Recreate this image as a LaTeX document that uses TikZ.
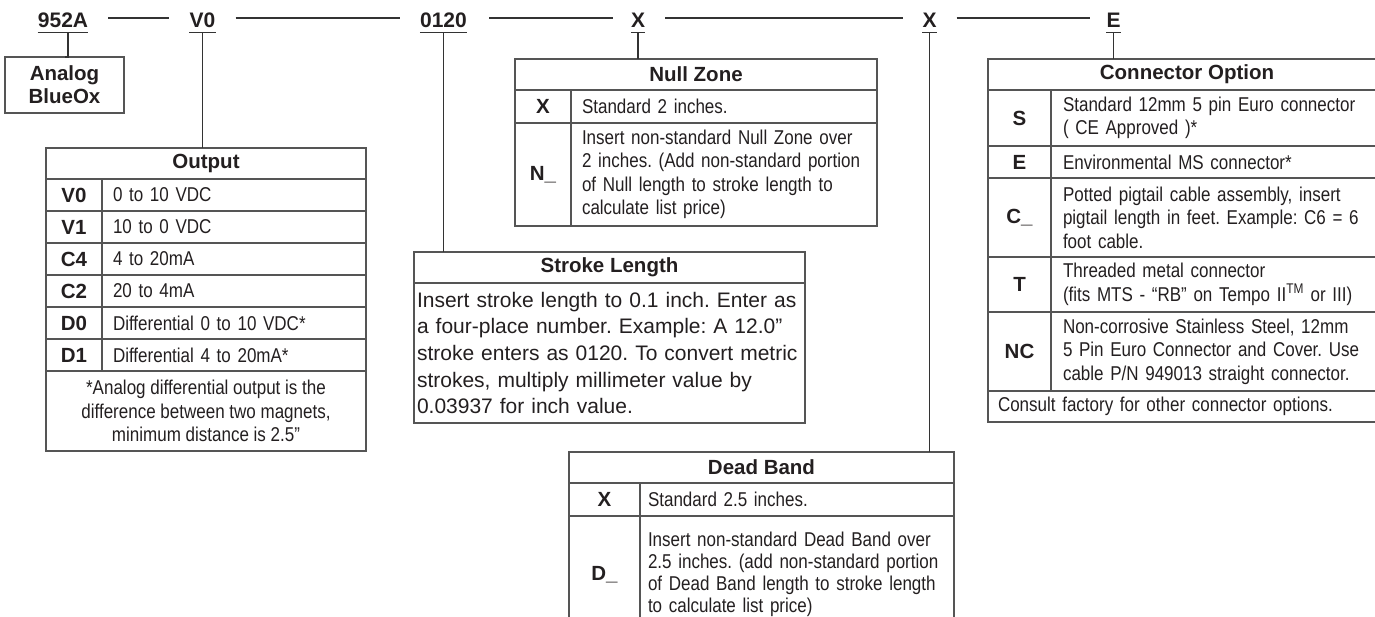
\documentclass[tikz,border=0pt]{standalone}
\usepackage{fontspec}
\setmainfont{Liberation Sans}
\newfontfamily\narrowsans{Liberation Sans}[FakeStretch=0.85]
\usepackage{tikz}
\usetikzlibrary{positioning}
\definecolor{ink}{HTML}{231F20}
\definecolor{ruleline}{HTML}{555555}
\definecolor{linkc}{HTML}{333333}
\newcommand{\codefont}{\fontsize{21}{24}\selectfont\bfseries}
\newcommand{\headfont}{\fontsize{20.5}{23}\selectfont\bfseries}
\newcommand{\descfont}{\narrowsans\fontsize{20}{23.5}\selectfont}
\newcommand{\bodyfont}{\fontsize{21}{26.6}\selectfont}
\frenchspacing
\hyphenpenalty=10000
\exhyphenpenalty=10000

\begin{document}
\begin{tikzpicture}[x=1pt, y=-1pt,
    every node/.style={text=ink},
    codelabel/.style={font=\codefont, inner xsep=0pt, inner ysep=5pt, text height=15pt, text depth=0pt, anchor=base},
    cell/.style={draw=ruleline, line width=1.3pt, anchor=north west, inner sep=0pt, outer sep=0pt},
    hdcell/.style={cell, font=\headfont},
    keycell/.style={cell, font=\headfont},
    desccell/.style={cell, font=\descfont, align=left, inner xsep=#1},
    desccell/.default=11pt,
    stem/.style={draw=linkc, line width=1.2pt}
]
\useasboundingbox (0,0) rectangle (1375,616);
\clip (0,0) rectangle (1375,616);

% Part number codes
\node[codelabel] (c952)    at (63,27)     {952A};
\node[codelabel] (cvo)     at (202.5,27)  {V0};
\node[codelabel] (cstroke) at (443.5,27)  {0120};
\node[codelabel] (cnull)   at (638,27)    {X};
\node[codelabel] (cdead)   at (929.5,27)  {X};
\node[codelabel] (ccon)    at (1113.5,27) {E};

% Brand
\node[cell, font=\headfont, align=center, minimum width=119pt, minimum height=56pt] (brand) at (5,57) {Analog\\BlueOx};

% Output
\node[hdcell, minimum width=320pt, minimum height=31pt] (outhead) at (46,148) {Output};
\node[keycell, minimum width=56pt, minimum height=32pt] (ov0k) at (46,179) {V0};
\node[desccell, minimum height=32pt, text width=242pt] (ov0d) at (102,179) {0 to 10 VDC};
\node[keycell, minimum width=56pt, minimum height=32pt] (ov1k) at (46,211) {V1};
\node[desccell, minimum height=32pt, text width=242pt] (ov1d) at (102,211) {10 to 0 VDC};
\node[keycell, minimum width=56pt, minimum height=32pt] (oc4k) at (46,243) {C4};
\node[desccell, minimum height=32pt, text width=242pt] (oc4d) at (102,243) {4 to 20mA};
\node[keycell, minimum width=56pt, minimum height=32pt] (oc2k) at (46,275) {C2};
\node[desccell, minimum height=32pt, text width=242pt] (oc2d) at (102,275) {20 to 4mA};
\node[keycell, minimum width=56pt, minimum height=32pt] (od0k) at (46,307) {D0};
\node[desccell, minimum height=32pt, text width=242pt] (od0d) at (102,307) {Differential 0 to 10 VDC*};
\node[keycell, minimum width=56pt, minimum height=32pt] (od1k) at (46,339) {D1};
\node[desccell, minimum height=32pt, text width=242pt] (od1d) at (102,339) {Differential 4 to 20mA*};
\node[cell, font=\descfont, align=center, minimum width=320pt, minimum height=80pt] (outnote) at (46,371) {*Analog differential output is the\\difference between two magnets,\\minimum distance is 2.5”};

% Null Zone
\node[hdcell, minimum width=362pt, minimum height=31pt] (nullhead) at (515,59) {Null Zone};
\node[keycell, minimum width=56pt, minimum height=33pt] (nxk) at (515,90) {X};
\node[desccell, minimum height=33pt, text width=284pt] (nxd) at (571,90) {Standard 2 inches.};
\node[keycell, minimum width=56pt, minimum height=103pt] (nnk) at (515,123) {N\_};
\node[desccell, minimum height=103pt, text width=284pt] (nnd) at (571,123) {Insert non-standard Null Zone over\\2 inches. (Add non-standard portion\\of Null length to stroke length to\\calculate list price)};

% Stroke Length
\node[hdcell, minimum width=391pt, minimum height=31pt] (strokehead) at (414,252) {Stroke Length};
\node[desccell=3pt, font=\bodyfont, minimum height=140pt, text width=385pt] (strokebody) at (414,283) {Insert stroke length to 0.1 inch. Enter as\\a four-place number. Example: A 12.0”\\stroke enters as 0120. To convert metric\\strokes, multiply millimeter value by\\0.03937 for inch value.};

% Dead Band
\node[hdcell, minimum width=385pt, minimum height=31pt] (deadhead) at (569,452) {Dead Band};
\node[keycell, minimum width=71pt, minimum height=33pt] (dxk) at (569,483) {X};
\node[desccell=8pt, minimum height=33pt, text width=298pt] (dxd) at (640,483) {Standard 2.5 inches.};
\node[keycell, minimum width=71pt, minimum height=117pt] (ddk) at (569,516) {D\_};
\node[desccell=8pt, font=\narrowsans\fontsize{20}{22}\selectfont, minimum height=117pt, text width=298pt] (ddd) at (640,516) {Insert non-standard Dead Band over\\2.5 inches. (add non-standard portion\\of Dead Band length to stroke length\\to calculate list price)};

% Connector Option
\node[hdcell, minimum width=398pt, minimum height=31pt] (conhead) at (988,59) {Connector Option};
\node[keycell, minimum width=63pt, minimum height=56pt] (csk) at (988,90) {S};
\node[desccell=12pt, minimum height=56pt, text width=311pt] (csd) at (1051,90) {Standard 12mm 5 pin Euro connector\\( CE Approved )*};
\node[keycell, minimum width=63pt, minimum height=32pt] (cek) at (988,146) {E};
\node[desccell=12pt, minimum height=32pt, text width=311pt] (ced) at (1051,146) {Environmental MS connector*};
\node[keycell, minimum width=63pt, minimum height=79pt] (cck) at (988,178) {C\_};
\node[desccell=12pt, minimum height=79pt, text width=311pt] (ccd) at (1051,178) {Potted pigtail cable assembly, insert\\pigtail length in feet. Example: C6 = 6\\foot cable.};
\node[keycell, minimum width=63pt, minimum height=55pt] (ctk) at (988,257) {T};
\node[desccell=12pt, minimum height=55pt, text width=311pt] (ctd) at (1051,257) {Threaded metal connector\\(fits MTS - “RB” on Tempo II\textsuperscript{TM} or III)};
\node[keycell, minimum width=63pt, minimum height=79pt] (cnk) at (988,312) {NC};
\node[desccell=12pt, minimum height=79pt, text width=311pt] (cnd) at (1051,312) {Non-corrosive Stainless Steel, 12mm\\5 Pin Euro Connector and Cover. Use\\cable P/N 949013 straight connector.};
\node[desccell=10pt, minimum height=31pt, text width=378pt] (connote) at (988,391) {Consult factory for other connector options.};

% Underlines
\draw[stem] (c952.south west) -- (c952.south east);
\draw[stem] (cvo.south west) -- (cvo.south east);
\draw[stem] (cstroke.south west) -- (cstroke.south east);
\draw[stem] (cnull.south west) -- (cnull.south east);
\draw[stem] (cdead.south west) -- (cdead.south east);
\draw[stem] (ccon.south west) -- (ccon.south east);

% Code line
\draw[stem] ([xshift=20pt,yshift=1.5pt]c952.east) -- ([xshift=-20pt,yshift=1.5pt]cvo.west);
\draw[stem] ([xshift=20pt,yshift=1.5pt]cvo.east) -- ([xshift=-20pt,yshift=1.5pt]cstroke.west);
\draw[stem] ([xshift=22pt,yshift=1.5pt]cstroke.east) -- ([xshift=-18pt,yshift=1.5pt]cnull.west);
\draw[stem] ([xshift=20pt,yshift=1.5pt]cnull.east) -- ([xshift=-19pt,yshift=1.5pt]cdead.west);
\draw[stem] ([xshift=20pt,yshift=1.5pt]cdead.east) -- ([xshift=-16pt,yshift=1.5pt]ccon.west);

% Stems down to the tables
\draw[stem] ([xshift=5pt]c952.south) |- (brand.north);
\draw[stem] (cvo.south) -- (cvo.south |- outhead.north);
\draw[stem] (cstroke.south) -- (cstroke.south |- strokehead.north);
\draw[stem] (cnull.south) -- (cnull.south |- nullhead.north);
\draw[stem] (cdead.south) -- (cdead.south |- deadhead.north);
\draw[stem] (ccon.south) -- (ccon.south |- conhead.north);
\end{tikzpicture}
\end{document}
